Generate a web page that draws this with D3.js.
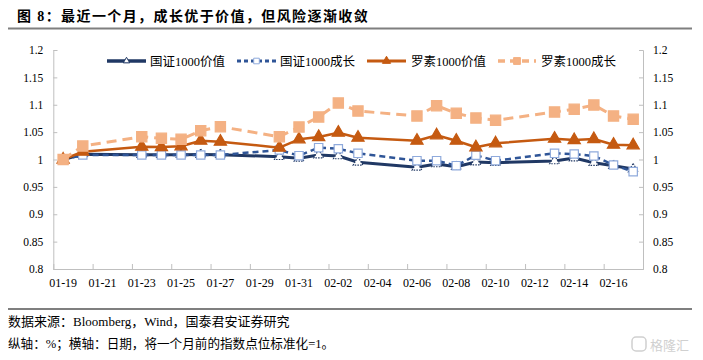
<!DOCTYPE html>
<html><head><meta charset="utf-8">
<script src="https://cdn.jsdelivr.net/npm/d3@7"></script>
<style>
body{margin:0;background:#fff;}
text{font-family:"Liberation Serif","Noto Sans CJK SC",serif;}
</style></head>
<body><svg id="c" width="703" height="360"></svg>
<script>
const dates = ["2023-01-19","2023-01-20","2023-01-23","2023-01-24","2023-01-25","2023-01-26","2023-01-27","2023-01-30","2023-01-31","2023-02-01","2023-02-02","2023-02-03","2023-02-06","2023-02-07","2023-02-08","2023-02-09","2023-02-10","2023-02-13","2023-02-14","2023-02-15","2023-02-16","2023-02-17"];
const gzValue  = [1.000,1.0095,1.0088,1.0088,1.0088,1.0090,1.0088,1.0051,1.0021,1.0082,1.0064,0.9949,0.9858,0.9918,0.9869,0.9954,0.9942,0.9973,1.0027,0.9942,0.9887,0.9826];
const gzGrowth = [1.000,1.0082,1.0082,1.0082,1.0082,1.0082,1.0082,1.0174,1.0070,1.0216,1.0197,1.0113,0.9978,0.9978,0.9887,1.0077,0.9978,1.0113,1.0100,1.0064,0.9900,0.9778];
const rsValue  = [1.000,1.0142,1.0234,1.0228,1.0241,1.0343,1.0325,1.0216,1.0369,1.0411,1.0490,1.0398,1.0343,1.0442,1.0343,1.0223,1.0296,1.0380,1.0356,1.0374,1.0270,1.0259];
const rsGrowth = [1.000,1.0247,1.0416,1.0387,1.0369,1.0526,1.0599,1.0416,1.0594,1.0776,1.1032,1.0886,1.0795,1.0983,1.0844,1.0758,1.0716,1.0868,1.0917,1.0995,1.0795,1.0734];
const seriesNames = ["国证1000价值","国证1000成长","罗素1000价值","罗素1000成长"];
const yTicks = [0.8,0.85,0.9,0.95,1,1.05,1.1,1.15,1.2];
const xTickLabels = ["01-19","01-21","01-23","01-25","01-27","01-29","01-31","02-02","02-04","02-06","02-08","02-10","02-12","02-14","02-16"];
const titleText = "图 8：最近一个月，成长优于价值，但风险逐渐收敛";
const sourceText = "数据来源：Bloomberg，Wind，国泰君安证券研究";
const noteText = "纵轴：%；横轴：日期，将一个月前的指数点位标准化=1。";

const svg = d3.select("#c");
const L = 53.3, R = 643, T = 50, B = 269;
const day = 864e5;
const parse = s => new Date(s + "T00:00:00Z");
const d0 = parse("2023-01-19"), dEnd = parse("2023-02-17");
const x = d3.scaleUtc().domain([new Date(+d0 - day/2), new Date(+dEnd + day/2)]).range([L, R]);
const y = d3.scaleLinear().domain([0.8, 1.2]).range([B, T]);
const gray = "#bfbfbf";

// title
svg.append("text").attr("x",17).attr("y",21).attr("font-size",14).attr("font-weight","bold")
  .attr("letter-spacing",1.4).attr("fill","#000").text(titleText);
svg.append("line").attr("x1",8).attr("x2",692).attr("y1",28.5).attr("y2",28.5).attr("stroke","#7f7f7f").attr("stroke-width",2);
svg.append("line").attr("x1",8).attr("x2",692).attr("y1",309).attr("y2",309).attr("stroke","#7f7f7f").attr("stroke-width",2);
svg.append("text").attr("x",8).attr("y",326).attr("font-size",13).text(sourceText);
svg.append("text").attr("x",8).attr("y",348).attr("font-size",12.6).text(noteText);
svg.append("text").attr("x",650).attr("y",350).attr("font-size",13).attr("fill","#d0d0d0").attr("font-family","Noto Sans CJK SC").text("格隆汇");
svg.append("rect").attr("x",632).attr("y",337).attr("width",14).attr("height",14).attr("rx",4).attr("fill","none").attr("stroke","#d0d0d0").attr("stroke-width",1.5);

// axes
const yl = d3.axisLeft(y).tickValues(yTicks).tickSize(-4).tickPadding(10).tickFormat(d => d3.format("")(d));
const yr = d3.axisRight(y).tickValues(yTicks).tickSize(-4).tickPadding(10).tickFormat(d => d3.format("")(d));
const gl = svg.append("g").attr("transform",`translate(${L},0)`).call(yl);
const gr = svg.append("g").attr("transform",`translate(${R},0)`).call(yr);
[gl,gr].forEach(g=>{
  g.select(".domain").attr("stroke",gray);
  g.selectAll(".tick line").attr("stroke",gray);
  g.selectAll(".tick text").attr("font-size",11.5).attr("fill","#000").attr("font-family","Liberation Serif");
});
gl.selectAll(".tick text").attr("x",-10);
gr.selectAll(".tick text").attr("x",10);

// x axis baseline + tick marks at 2-day boundaries
const tickDates = d3.range(1, 15).map(k => new Date(+d0 - day/2 + 2*k*day));
const xa = d3.axisBottom(x).tickValues(tickDates).tickSize(-5).tickFormat("");
const gx = svg.append("g").attr("transform",`translate(0,${B})`).call(xa);
gx.select(".domain").attr("stroke",gray);
gx.selectAll(".tick line").attr("stroke",gray);
// x labels at day centres
const labelDates = xTickLabels.map(s => parse("2023-" + s));
svg.append("g").selectAll("text").data(labelDates).join("text")
  .attr("x", d => x(d)).attr("y", 287).attr("text-anchor","middle")
  .attr("font-size",12).attr("font-family","Liberation Serif").text((d,i)=>xTickLabels[i]);

const pts = vals => vals.map((v,i)=>({d:parse(dates[i]), v}));
const line = d3.line().x(p=>x(p.d)).y(p=>y(p.v));

const tri = d3.symbol().type(d3.symbolTriangle);
const sq = d3.symbol().type(d3.symbolSquare);

const series = [
  {vals:gzValue, color:"#203864", w:3, dash:null, marker:"tri", mSize:40, mFill:"#fff", mStroke:"#203864", mDash:"1.5 1.2"},
  {vals:gzGrowth, color:"#2f5597", w:2.5, dash:"6 4", marker:"sq", mSize:70, mFill:"#fff", mStroke:"#8faadc", mDash:null},
  {vals:rsValue, color:"#c55a11", w:2.5, dash:null, marker:"tri", mSize:65, mFill:"#c55a11", mStroke:"#c55a11", mDash:null},
  {vals:rsGrowth, color:"#f4b183", w:3, dash:"10 6", marker:"sq", mSize:105, mFill:"#f4b183", mStroke:"#f4b183", mDash:null}
];

series.forEach(s=>{
  const g = svg.append("g");
  g.append("path").datum(pts(s.vals)).attr("d",line).attr("fill","none")
    .attr("stroke",s.color).attr("stroke-width",s.w).attr("stroke-dasharray",s.dash).attr("stroke-linejoin","round");
  g.selectAll("path.m").data(pts(s.vals)).join("path").attr("class","m")
    .attr("transform",p=>`translate(${x(p.d)},${y(p.v)})`)
    .attr("d",(s.marker==="tri"?tri:sq).size(s.mSize)())
    .attr("fill",s.mFill).attr("stroke",s.mStroke).attr("stroke-width",1.2).attr("stroke-dasharray",s.mDash);
});

// legend
const leg = [
  {x1:107,x2:146,tx:150},
  {x1:237,x2:276,tx:280},
  {x1:367,x2:406,tx:411},
  {x1:498,x2:536,tx:541}
];
const ly = 61;
series.forEach((s,i)=>{
  const l = leg[i];
  svg.append("line").attr("x1",l.x1).attr("x2",l.x2).attr("y1",ly).attr("y2",ly)
    .attr("stroke",s.color).attr("stroke-width",s.w+0.5).attr("stroke-dasharray",s.dash? (i===1?"4 3":"7 5"):null);
  svg.append("path").attr("transform",`translate(${(l.x1+l.x2)/2},${ly})`)
    .attr("d",(s.marker==="tri"?tri:sq).size(s.mSize*0.45)())
    .attr("fill",s.mFill).attr("stroke",s.mStroke).attr("stroke-width",1);
  svg.append("text").attr("x",l.tx).attr("y",ly+4.5).attr("font-size",12.5).text(seriesNames[i]);
});
</script></body></html>
